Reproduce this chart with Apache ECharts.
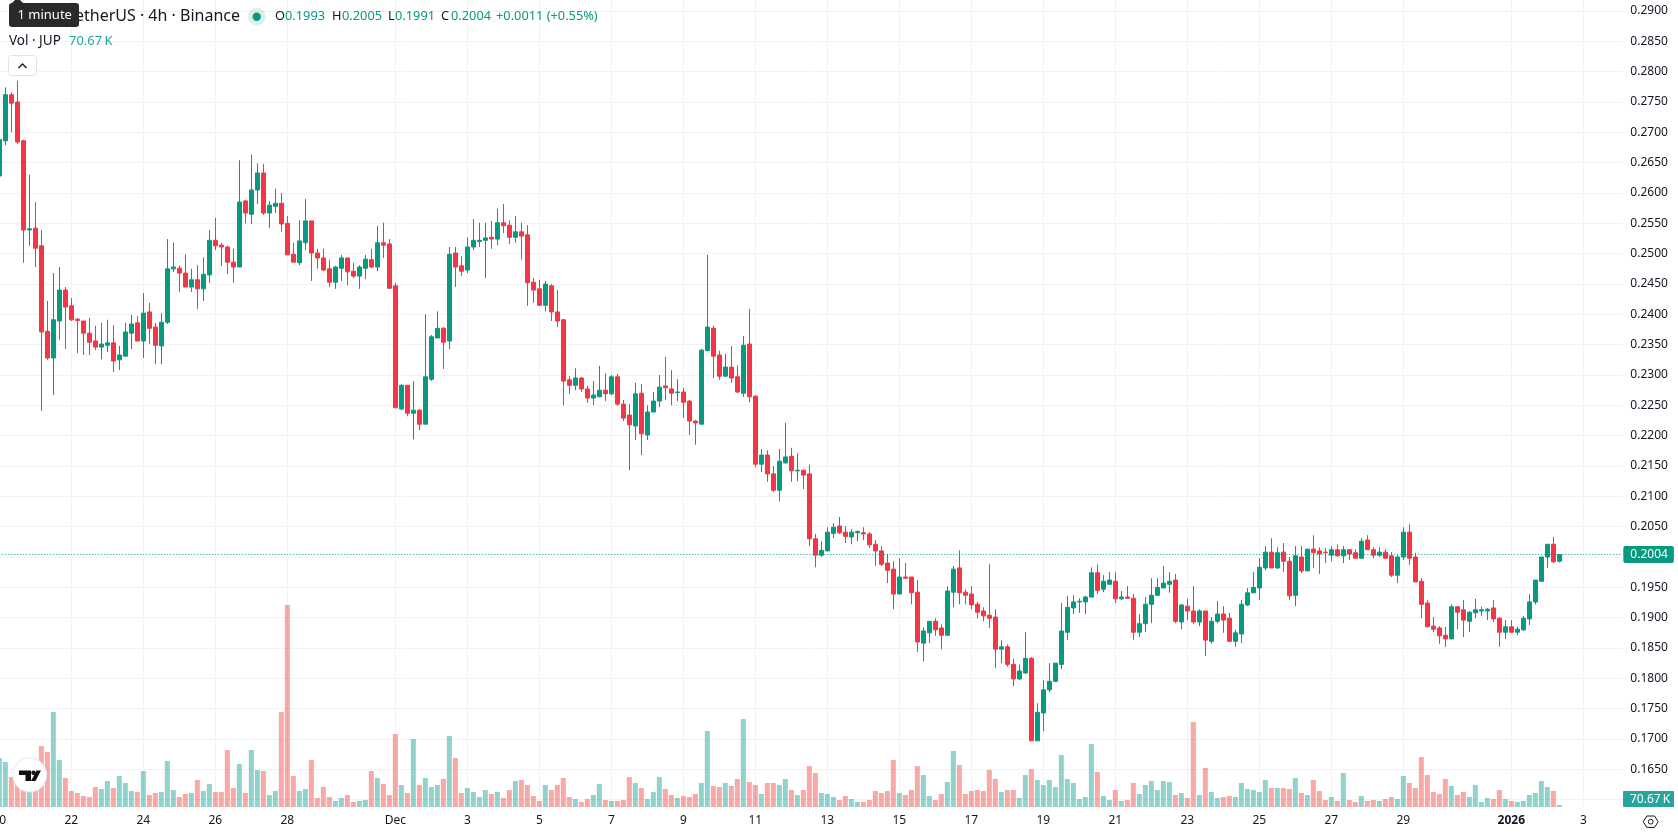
<!DOCTYPE html>
<html>
<head>
<meta charset="utf-8">
<title>JUP / TetherUS 4h</title>
<style>
  html, body { margin: 0; padding: 0; background: #fff; overflow: hidden; }
  #chart { width: 1678px; height: 835px; }
</style>
<script src="https://cdn.jsdelivr.net/npm/echarts@6/dist/echarts.min.js"></script>
</head>
<body>
<div id="chart"></div>
<script>
// 4h candles from 20 Nov 2025 00:00, prices in ten-thousandths of a USDT.
const opens = [
  2628,2686,2762,2750,2686,2539,2542,2513,2372,2328,
  2389,2440,2414,2392,2389,2369,2356,2346,2349,2353,
  2325,2331,2369,2386,2356,2404,2379,2348,2387,2475,
  2476,2468,2445,2457,2442,2465,2522,2514,2511,2486,
  2478,2587,2565,2605,2633,2567,2578,2583,2550,2499,
  2485,2518,2554,2501,2493,2475,2453,2476,2493,2471,
  2463,2476,2490,2478,2518,2516,2447,2244,2283,2237,
  2242,2219,2293,2361,2377,2356,2501,2480,2473,2511,
  2520,2522,2527,2524,2551,2547,2527,2536,2531,2453,
  2442,2415,2447,2404,2391,2292,2283,2295,2277,2262,
  2264,2275,2269,2297,2252,2234,2216,2270,2201,2239,
  2257,2282,2277,2271,2272,2257,2224,2219,2340,2377,
  2333,2298,2313,2297,2270,2351,2265,2153,2168,2137,
  2110,2155,2166,2142,2143,2137,2030,2003,2010,2039,
  2051,2041,2033,2040,2040,2038,2021,2010,1990,1980,
  1939,1967,1967,1942,1858,1875,1894,1883,1871,1942,
  1982,1942,1939,1922,1911,1904,1901,1848,1852,1823,
  1799,1809,1833,1697,1743,1781,1795,1823,1876,1916,
  1926,1926,1934,1974,1947,1955,1960,1931,1934,1932,
  1876,1890,1922,1937,1949,1955,1962,1893,1919,1911,
  1893,1911,1861,1894,1906,1899,1861,1873,1921,1941,
  1949,1982,2008,1982,2008,1993,1937,2000,1977,2013,
  2010,2008,2003,2012,2002,2012,2007,1998,2028,2012,
  2003,2008,2002,1970,2000,2041,2000,1960,1924,1886,
  1883,1871,1865,1918,1913,1894,1908,1911,1911,1916,
  1899,1876,1885,1876,1880,1898,1926,1960,2000,2021,
  1993
];
const closes = [
  2688,2762,2748,2684,2539,2541,2509,2371,2328,2391,
  2440,2412,2391,2390,2369,2354,2346,2351,2353,2323,
  2333,2371,2384,2356,2402,2377,2349,2387,2475,2478,
  2468,2445,2457,2442,2466,2522,2513,2511,2486,2478,
  2585,2567,2605,2633,2567,2580,2583,2549,2498,2486,
  2521,2554,2501,2493,2473,2453,2478,2493,2470,2463,
  2478,2491,2478,2518,2514,2443,2246,2283,2237,2242,
  2219,2297,2363,2377,2354,2499,2478,2471,2511,2522,
  2522,2526,2524,2551,2546,2527,2536,2529,2452,2440,
  2415,2450,2404,2389,2290,2283,2295,2277,2262,2267,
  2275,2269,2297,2252,2229,2218,2269,2203,2239,2257,
  2280,2279,2270,2272,2255,2224,2221,2341,2379,2331,
  2298,2313,2295,2272,2349,2264,2153,2168,2137,2110,
  2158,2165,2142,2143,2135,2030,2003,2011,2041,2049,
  2040,2034,2041,2042,2038,2020,2010,1988,1978,1939,
  1967,1965,1941,1860,1878,1894,1880,1871,1944,1980,
  1941,1937,1921,1909,1903,1899,1848,1852,1823,1799,
  1812,1833,1697,1744,1781,1795,1825,1878,1917,1926,
  1927,1934,1974,1945,1960,1962,1931,1934,1932,1876,
  1890,1922,1937,1950,1957,1960,1894,1921,1911,1893,
  1911,1863,1894,1906,1896,1861,1875,1922,1941,1950,
  1983,2008,1982,2007,1993,1936,2002,1977,2013,2007,
  2005,2007,2012,2002,2012,2005,1998,2026,2012,2003,
  2008,1998,1970,2000,2041,1998,1959,1922,1885,1881,
  1870,1865,1918,1909,1896,1909,1913,1913,1914,1898,
  1876,1885,1876,1881,1899,1926,1962,2000,2021,1992,
  2004
];
const lows = [
  2620,2679,2700,2681,2485,2513,2478,2241,2325,2267,
  2358,2343,2389,2336,2333,2333,2341,2326,2338,2305,
  2308,2331,2343,2356,2328,2351,2318,2318,2384,2470,
  2437,2445,2437,2409,2422,2452,2506,2480,2466,2452,
  2478,2550,2549,2582,2564,2542,2567,2536,2498,2486,
  2481,2506,2455,2475,2471,2445,2442,2455,2448,2460,
  2442,2458,2476,2471,2493,2442,2246,2242,2232,2194,
  2209,2219,2290,2361,2310,2343,2445,2463,2468,2506,
  2511,2460,2508,2514,2534,2516,2518,2490,2414,2419,
  2414,2405,2389,2379,2250,2269,2275,2272,2254,2250,
  2264,2257,2267,2249,2224,2143,2193,2168,2193,2239,
  2247,2259,2250,2257,2229,2201,2185,2219,2340,2295,
  2292,2298,2287,2270,2264,2255,2148,2140,2124,2107,
  2092,2155,2124,2125,2112,2018,1983,2000,2010,2031,
  2038,2023,2021,2026,2028,2015,1985,1985,1957,1914,
  1939,1965,1922,1843,1828,1858,1870,1848,1871,1917,
  1922,1922,1914,1899,1894,1883,1817,1825,1819,1787,
  1797,1807,1697,1697,1713,1777,1794,1815,1863,1906,
  1908,1906,1934,1939,1942,1955,1924,1929,1931,1863,
  1868,1876,1891,1936,1949,1941,1891,1881,1896,1890,
  1886,1837,1857,1891,1875,1861,1852,1858,1919,1941,
  1929,1978,1982,1980,1975,1929,1919,1973,1977,1982,
  1972,1990,1993,2000,1990,1995,1998,1997,2012,1998,
  2000,1998,1967,1957,1995,1987,1959,1899,1885,1876,
  1857,1852,1865,1881,1868,1876,1899,1903,1896,1893,
  1852,1865,1875,1871,1878,1888,1922,1960,1982,1990,
  1991
];
const highs = [
  2692,2774,2766,2785,2688,2630,2585,2539,2422,2468,
  2478,2445,2427,2394,2389,2394,2381,2386,2391,2382,
  2348,2386,2399,2397,2435,2419,2386,2402,2524,2518,
  2480,2499,2475,2481,2494,2539,2559,2518,2513,2508,
  2654,2588,2663,2649,2648,2587,2607,2600,2562,2518,
  2555,2590,2554,2508,2508,2490,2480,2498,2493,2485,
  2481,2498,2508,2546,2551,2524,2452,2285,2283,2290,
  2244,2400,2366,2405,2379,2511,2511,2496,2527,2557,
  2551,2551,2554,2574,2582,2555,2562,2551,2547,2460,
  2457,2455,2450,2440,2392,2298,2311,2297,2282,2290,
  2315,2303,2300,2302,2259,2252,2287,2285,2250,2272,
  2300,2330,2308,2293,2279,2259,2226,2343,2498,2381,
  2340,2335,2348,2316,2364,2409,2267,2178,2176,2150,
  2178,2221,2180,2171,2144,2152,2038,2026,2049,2056,
  2066,2051,2046,2044,2049,2041,2028,2018,2005,1993,
  1998,1990,1967,1962,1884,1894,1899,1889,1952,1985,
  2011,1947,1952,1926,1917,1988,1914,1863,1856,1832,
  1823,1876,1835,1759,1797,1825,1825,1924,1936,1937,
  1932,1936,1983,1988,1970,1975,1975,1944,1952,1939,
  1906,1934,1965,1965,1985,1975,1972,1922,1931,1952,
  1914,1911,1901,1927,1919,1908,1880,1929,1949,1975,
  1998,2018,2031,2016,2023,2000,2018,2018,2013,2036,
  2016,2015,2018,2021,2018,2013,2013,2031,2036,2016,
  2016,2013,2008,2003,2049,2054,2007,1965,1929,1901,
  1886,1885,1922,1918,1929,1911,1931,1918,1916,1929,
  1901,1896,1896,1885,1903,1939,1962,2000,2021,2033,
  2005
];
// Traded volume per candle, in thousands of JUP.
const volumes = [
  1715,1575,1050,840,770,700,700,2135,1925,3325,
  1645,1015,560,490,385,350,700,630,910,665,
  1085,840,560,525,1260,420,490,525,1610,595,
  350,455,490,945,560,805,525,525,1995,665,
  1505,490,1995,1295,1260,420,560,3325,7070,1085,
  560,630,1645,315,700,350,210,315,420,175,
  210,245,1260,1015,805,420,2555,770,490,2380,
  770,1015,700,770,980,2485,1715,490,665,525,
  350,595,455,525,315,595,910,945,770,385,
  210,770,595,770,1015,350,280,175,280,420,
  805,245,210,210,245,1050,840,665,280,525,
  1050,630,420,315,385,350,455,840,2660,735,
  700,840,735,980,3080,875,770,455,840,840,
  770,980,595,420,595,1435,1190,490,455,350,
  245,385,280,175,175,245,560,490,560,1645,
  490,420,595,1435,1120,385,245,455,875,1960,
  1470,455,560,595,560,1295,980,525,595,595,
  315,1120,1330,945,770,945,700,1820,980,840,
  280,350,2205,1225,385,245,595,210,245,840,
  455,770,910,595,910,875,420,490,315,2975,
  420,1365,525,315,350,385,350,840,630,595,
  525,945,665,665,665,630,1015,490,420,945,
  560,245,350,210,1190,245,175,385,210,245,
  210,280,350,280,1085,840,665,1750,1120,525,
  455,980,735,420,525,350,770,175,315,280,
  595,280,210,175,210,420,490,910,700,560,
  70.67
];
// Time-axis stops: the day each one falls on and the text it shows.
const tickDays = [
  '2025-11-20','2025-11-22','2025-11-24','2025-11-26','2025-11-28','2025-12-01',
  '2025-12-03','2025-12-05','2025-12-07','2025-12-09','2025-12-11','2025-12-13',
  '2025-12-15','2025-12-17','2025-12-19','2025-12-21','2025-12-23','2025-12-25',
  '2025-12-27','2025-12-29','2026-01-01','2026-01-03'
];
const tickLabels = ['20','22','24','26','28','Dec','3','5','7','9','11','13','15','17','19','21','23','25','27','29','2026','3'];

const PRICE_UNIT = 1e-4;
const FUTURE_SLOTS = 10;            // empty candle slots right of the last bar
const UP = '#089981', DOWN = '#F23645';
const VOL_UP = 'rgba(38,166,154,0.5)', VOL_DOWN = 'rgba(239,83,80,0.5)';
const FONT = '"Noto Sans", sans-serif';
const INK = '#131722';
const GRID_COLOR = '#f2f2f3';

// One 4h slot per candle plus the blank run-out on the right.
const categories = [];
for (let i = 0; i < opens.length + FUTURE_SLOTS; i++) {
  const t = new Date(Date.UTC(2025, 10, 20) + i * 4 * 3600 * 1000);
  categories.push(t.toISOString().slice(0, 16).replace('T', ' '));
}
const tickText = {};
tickDays.forEach((d, i) => { tickText[d + ' 00:00'] = tickLabels[i]; });
const isTick = (_, value) => value in tickText;

const candleData = opens.map((o, i) => [
  o * PRICE_UNIT, closes[i] * PRICE_UNIT, lows[i] * PRICE_UNIT, highs[i] * PRICE_UNIT
]);
const lastPrice = closes[closes.length - 1] * PRICE_UNIT;

// Header, watermark button and other chart furniture.
const txt = (x, y, text, fill, fontSize, extra) => ({
  type: 'text', x, y, z: 200,
  style: Object.assign({ text, fill, font: fontSize + 'px ' + FONT, textVerticalAlign: 'middle' }, extra || {})
});
const OHLC_SIZE = 12.8;
const furniture = [
  txt(240, 16, 'TetherUS · 4h · Binance', INK, 16, { textAlign: 'right' }),
  { type: 'circle', z: 200, shape: { cx: 256.7, cy: 16.7, r: 9 }, style: { fill: 'rgba(8,153,129,0.14)' } },
  { type: 'circle', z: 201, shape: { cx: 256.7, cy: 16.7, r: 4.2 }, style: { fill: UP } },
  txt(275, 16.5, 'O', INK, OHLC_SIZE), txt(285, 16.5, '0.1993', UP, OHLC_SIZE),
  txt(332, 16.5, 'H', INK, OHLC_SIZE), txt(342, 16.5, '0.2005', UP, OHLC_SIZE),
  txt(388, 16.5, 'L', INK, OHLC_SIZE), txt(395, 16.5, '0.1991', UP, OHLC_SIZE),
  txt(441, 16.5, 'C', INK, OHLC_SIZE), txt(451, 16.5, '0.2004', UP, OHLC_SIZE),
  txt(496, 16.5, '+0.0011 (+0.55%)', UP, OHLC_SIZE),
  { type: 'polygon', z: 210, shape: { points: [[12, 3], [15, 0], [20, 0], [23, 3]] }, style: { fill: '#2a2a2a' } },
  { type: 'rect', z: 210, shape: { x: 9, y: 3, width: 70, height: 24, r: 3 }, style: { fill: '#2a2a2a' } },
  Object.assign(txt(17.5, 15.5, '1 minute', '#ffffff', 13), { z: 211 }),
  txt(9, 41, 'Vol · JUP', INK, 13.5),
  txt(69, 41, '70.67\u2009K', '#26a69a', 13),
  { type: 'rect', z: 200, shape: { x: 8.5, y: 55.5, width: 28, height: 20, r: 3 }, style: { fill: '#fff', stroke: '#e0e3eb', lineWidth: 1 } },
  { type: 'polyline', z: 201, shape: { points: [[18.5, 68], [22.5, 64], [26.5, 68]] }, style: { stroke: INK, lineWidth: 1.4, fill: 'none' } },
  { type: 'circle', z: 200, shape: { cx: 29.7, cy: 775, r: 17 }, style: { fill: '#fff', stroke: '#e8e8ea', lineWidth: 1 } },
  { type: 'polygon', z: 201, shape: { points: [[19, 770.5], [31, 770.5], [31, 781], [25.5, 781], [25.5, 775], [19, 775]] }, style: { fill: '#111' } },
  { type: 'circle', z: 201, shape: { cx: 33.5, cy: 772.8, r: 2.2 }, style: { fill: '#111' } },
  { type: 'polygon', z: 201, shape: { points: [[36.5, 770.5], [41, 770.5], [35.5, 781], [31, 781]] }, style: { fill: '#111' } },
  { type: 'rect', z: 200, shape: { x: 1623, y: 791, width: 51, height: 16, r: 1 }, style: { fill: '#26a69a' } },
  Object.assign(txt(1630, 799.5, '70.67\u2009K', '#ffffff', 12), { z: 201 }),
  { type: 'polygon', z: 200, shape: { points: [[1643.2, 821.7], [1646.8, 816], [1654.6, 816], [1658.2, 821.7], [1654.6, 827.4], [1646.8, 827.4]] }, style: { fill: 'none', stroke: INK, lineWidth: 1 } },
  { type: 'circle', z: 200, shape: { cx: 1650.7, cy: 821.7, r: 2.4 }, style: { fill: 'none', stroke: INK, lineWidth: 1 } }
];

const chart = echarts.init(document.getElementById('chart'), null, { renderer: 'canvas' });
const bandWidth = 6;
const plotLeft = -3.67;
const plotWidth = bandWidth * categories.length;

chart.setOption({
  animation: false,
  backgroundColor: '#ffffff',
  textStyle: { fontFamily: FONT },
  grid: [
    { left: plotLeft, width: plotWidth, top: 11, height: 788.67, outerBoundsMode: 'none' },
    { left: plotLeft, width: plotWidth, top: 0, height: 807, outerBoundsMode: 'none' }
  ],
  xAxis: [
    {
      type: 'category', gridIndex: 0, data: categories, show: false, boundaryGap: true
    },
    {
      type: 'category', gridIndex: 1, data: categories, boundaryGap: true,
      axisLine: { show: false },
      axisTick: { show: false },
      splitLine: { show: true, interval: isTick, alignWithLabel: true, lineStyle: { color: GRID_COLOR, width: 1 } },
      axisLabel: {
        interval: isTick, margin: 8, color: INK, fontSize: 12, fontFamily: FONT,
        formatter: (value) => {
          const t = tickText[value];
          return t === '2026' ? '{year|2026}' : (t || '');
        },
        rich: { year: { fontWeight: 'bold', fontSize: 12, color: INK, fontFamily: FONT } }
      }
    }
  ],
  yAxis: [
    {
      type: 'value', gridIndex: 0, position: 'right', min: 0.16, max: 0.29, interval: 0.005,
      axisLine: { show: false }, axisTick: { show: false },
      splitLine: { show: true, lineStyle: { color: GRID_COLOR, width: 1 } },
      axisLabel: { margin: 8, padding: [2, 0, 0, 0], color: INK, fontSize: 12, fontFamily: FONT, formatter: (v) => v.toFixed(4) }
    },
    { type: 'value', gridIndex: 1, min: 0, max: 28245, show: false }
  ],
  series: [
    {
      name: 'Vol', type: 'bar', xAxisIndex: 1, yAxisIndex: 1, data: volumes,
      barWidth: 5, z: 1,
      itemStyle: { color: (p) => (closes[p.dataIndex] >= opens[p.dataIndex] ? VOL_UP : VOL_DOWN) }
    },
    {
      name: 'JUPUSDT', type: 'candlestick', xAxisIndex: 0, yAxisIndex: 0, data: candleData,
      barWidth: 4, z: 3,
      itemStyle: { color: UP, color0: DOWN, borderColor: UP, borderColor0: DOWN, borderWidth: 1 },
      markLine: {
        silent: true, symbol: ['none', 'none'], animation: false, precision: 4,
        lineStyle: { color: UP, type: [1, 2], width: 1 },
        label: {
          show: true, position: 'end', distance: 1, formatter: () => lastPrice.toFixed(4),
          color: '#fff', fontSize: 12, fontFamily: FONT,
          backgroundColor: UP, borderRadius: 2, padding: [3, 6, 2, 7]
        },
        data: [{ yAxis: lastPrice }]
      }
    }
  ],
  graphic: furniture
});
</script>
</body>
</html>
